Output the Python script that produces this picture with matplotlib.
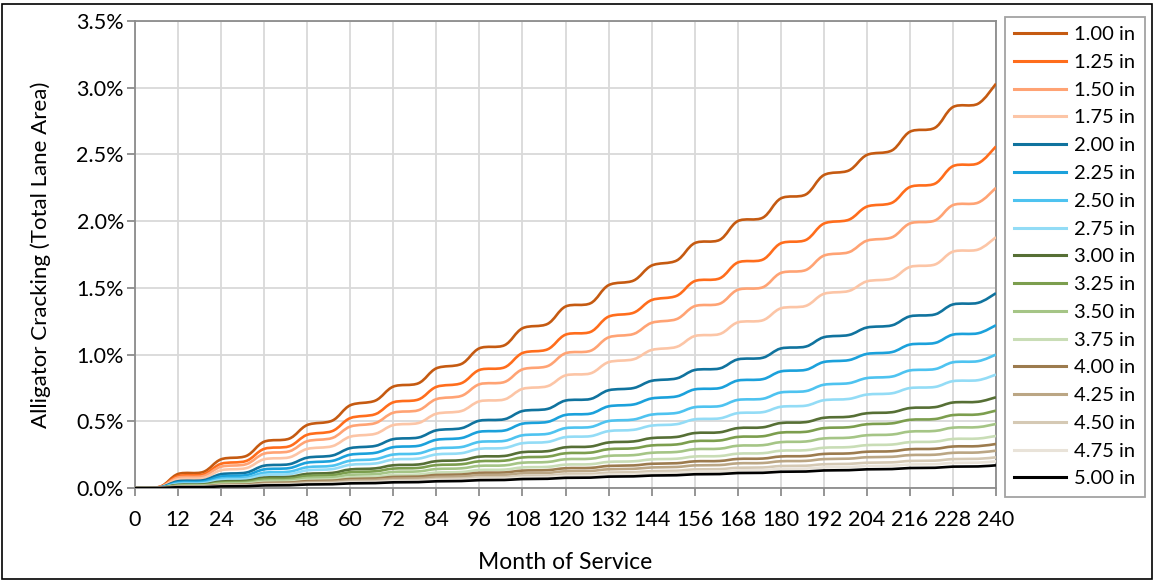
import matplotlib
matplotlib.use("Agg")
import matplotlib.pyplot as plt
import numpy as np
from matplotlib.patches import Rectangle, PathPatch
from matplotlib.path import Path
from matplotlib.lines import Line2D

plt.rcParams['font.family'] = ['Lato', 'DejaVu Sans']

# months at which the 1.00 in curve was read (start / end of each yearly plateau)
months = [0, 7, 12, 19, 24, 31, 36, 43, 48, 55, 60, 67, 72, 79, 84, 91, 96, 103,
          108, 115, 120, 127, 132, 139, 144, 151, 156, 163, 168, 175, 180, 187,
          192, 199, 204, 211, 216, 223, 228, 235, 240]
# alligator cracking (%) of the 1.00 in section
base_pct = [0.0, 0.01, 0.105, 0.12, 0.215, 0.24, 0.347, 0.37, 0.472, 0.505,
            0.62, 0.655, 0.76, 0.785, 0.897, 0.93, 1.047, 1.07, 1.197, 1.23,
            1.36, 1.385, 1.52, 1.555, 1.667, 1.705, 1.835, 1.86, 2.00, 2.026,
            2.17, 2.20, 2.345, 2.38, 2.496, 2.53, 2.67, 2.70, 2.855, 2.88, 3.03]

labels = ['1.00 in', '1.25 in', '1.50 in', '1.75 in', '2.00 in', '2.25 in',
          '2.50 in', '2.75 in', '3.00 in', '3.25 in', '3.50 in', '3.75 in',
          '4.00 in', '4.25 in', '4.50 in', '4.75 in', '5.00 in']
# cracking at month 240 for each thickness (curves share the same shape)
end_pct = [3.03, 2.56, 2.25, 1.88, 1.46, 1.22, 1.00, 0.85, 0.68, 0.58, 0.48,
           0.39, 0.33, 0.28, 0.23, 0.20, 0.17]

colors = ['#C55A11', '#FF6D1C', '#FFA374', '#FCC5A6', '#10739E', '#1BA1DB',
          '#4EC3F0', '#93DCF6', '#566F35', '#7C9E4E', '#A5C586', '#C9DDB6',
          '#9C7B4E', '#BBA684', '#D5C9B4', '#E9E3D9', '#000000']


def smooth_path(x, y, k=1 / 6):
    # Excel-style smoothed line: cubic bezier through every data point
    x = np.asarray(x, float)
    y = np.asarray(y, float)
    verts = [(x[0], y[0])]
    codes = [Path.MOVETO]
    n = len(x)
    for i in range(n - 1):
        i0, i2 = max(i - 1, 0), min(i + 2, n - 1)
        c1 = (x[i] + (x[i + 1] - x[i0]) * k, y[i] + (y[i + 1] - y[i0]) * k)
        c2 = (x[i + 1] - (x[i2] - x[i]) * k, y[i + 1] - (y[i2] - y[i]) * k)
        verts += [c1, c2, (x[i + 1], y[i + 1])]
        codes += [Path.CURVE4] * 3
    return Path(verts, codes)


fig = plt.figure(figsize=(11.54, 5.80), dpi=100)
ax = fig.add_axes([135 / 1154, 1 - 488 / 580, (996 - 135) / 1154, (488 - 21) / 580])

base = np.array(base_pct)
handles = []
for lab, end, col in zip(labels, end_pct, colors):
    vals = base * end / base[-1]
    ax.add_patch(PathPatch(smooth_path(months, vals), facecolor='none',
                           edgecolor=col, lw=1.9, joinstyle='round', zorder=3))
    handles.append(Line2D([], [], color=col, lw=2.2, label=lab))

ax.set_xlim(0, 240)
ax.set_ylim(0, 3.5)
ax.set_xticks(range(0, 241, 12))
ax.set_yticks(np.arange(0, 3.51, 0.5))
ax.set_yticklabels([f'{v:.1f}%' for v in np.arange(0, 3.51, 0.5)])
ax.grid(True, color='#d9d9d9', lw=1.3, zorder=0)
ax.set_axisbelow(True)
for s in ax.spines.values():
    s.set_color('#8c8c8c')
    s.set_linewidth(1.3)
ax.tick_params(axis='both', colors='#8c8c8c', labelcolor='black',
               labelsize=15.5, length=6, width=1.3, direction='out')
ax.tick_params(axis='x', pad=10)
ax.tick_params(axis='y', pad=2)

ax.set_xlabel('Month of Service', fontsize=16.5, labelpad=16)
ax.set_ylabel('Alligator Cracking (Total Lane Area)', fontsize=16, labelpad=18)

leg = fig.legend(handles=handles, loc='upper left',
                 bbox_to_anchor=(1005 / 1154, 1 - 17 / 580),
                 fontsize=14.5, frameon=True, fancybox=False, edgecolor='#8c8c8c',
                 handlelength=2.6, handletextpad=0.4, labelspacing=0.53,
                 borderpad=0.45, borderaxespad=0)
leg.get_frame().set_linewidth(1.3)

fig.patches.append(Rectangle((2 / 1154, 1 / 580), 1150 / 1154, 575 / 580,
                             transform=fig.transFigure, fill=False,
                             edgecolor='black', lw=1.2))

fig.savefig('out.png', dpi=100)
